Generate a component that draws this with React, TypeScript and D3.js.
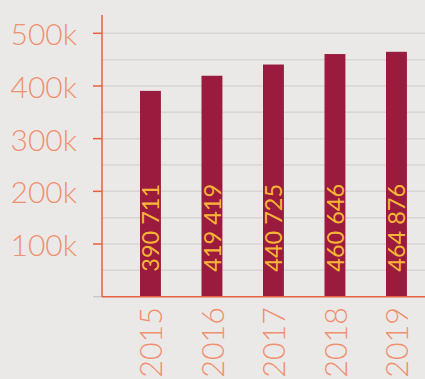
import React from "react";
import * as d3 from "d3";

const years = ["2015", "2016", "2017", "2018", "2019"];
const values = [390711, 419419, 440725, 460646, 464876];
const valueLabels = ["390 711", "419 419", "440 725", "460 646", "464 876"];
const majorTicks = [100000, 200000, 300000, 400000, 500000];
const tickLabels = ["100k", "200k", "300k", "400k", "500k"];
const gridTicks = [50000, 100000, 150000, 200000, 250000, 300000, 350000, 400000, 450000, 500000];

const W = 425;
const H = 379;

export default function App() {
  const y = d3.scaleLinear().domain([0, 500000]).range([296.7, 33.3]);
  const x = d3.scaleBand<string>().domain(years).range([119.7, 427.2]).paddingInner(0.66).paddingOuter(0.33);
  const axisX = 102;
  const axisColor = "#e6613f";
  const labelColor = "#f0906f";
  return (
    <svg width={W} height={H} style={{ position: "absolute", left: 0, top: 0, background: "#eae9e8" }}>
      <rect x={0} y={0} width={W} height={H} fill="#eae9e8" />
      {gridTicks.map((t) => (
        <line key={"g" + t} x1={axisX} x2={W} y1={y(t)} y2={y(t)} stroke="#d8d6d4" strokeWidth={1.5} />
      ))}
      <line x1={93} x2={axisX} y1={y(0)} y2={y(0)} stroke="#cfcac7" strokeWidth={1.5} />
      {values.map((v, i) => (
        <rect key={"b" + i} x={x(years[i])} width={x.bandwidth()} y={y(v)} height={y(0) - y(v)} fill="#9a1b3d" />
      ))}
      {values.map((v, i) => {
        const cx = (x(years[i]) as number) + x.bandwidth() / 2;
        const cy = y(0) - 25;
        return (
          <text
            key={"vl" + i}
            transform={`translate(${cx},${cy}) rotate(-90)`}
            textAnchor="start"
            dominantBaseline="central"
            fill="#f6b536"
            fontFamily="Lato, 'Open Sans', sans-serif"
            fontSize={23.5}
          >
            {valueLabels[i]}
          </text>
        );
      })}
      <line x1={axisX} x2={axisX} y1={15} y2={y(0)} stroke={axisColor} strokeWidth={1.5} />
      <line x1={axisX} x2={W} y1={y(0)} y2={y(0)} stroke={axisColor} strokeWidth={1.5} />
      {majorTicks.map((t, i) => (
        <g key={"t" + t}>
          <line x1={93} x2={axisX} y1={y(t)} y2={y(t)} stroke={axisColor} strokeWidth={1.5} />
          <text
            x={77}
            y={y(t)}
            textAnchor="end"
            dominantBaseline="central"
            fill={labelColor}
            fontFamily="Lato, 'Open Sans', sans-serif"
            fontWeight={300}
            fontSize={30}
          >
            {tickLabels[i]}
          </text>
        </g>
      ))}
      {years.map((yr) => {
        const cx = (x(yr) as number) + x.bandwidth() / 2;
        return (
          <text
            key={"x" + yr}
            transform={`translate(${cx},307) rotate(-90)`}
            textAnchor="end"
            dominantBaseline="central"
            fill={labelColor}
            fontFamily="Lato, 'Open Sans', sans-serif"
            fontWeight={300}
            fontSize={30.5}
          >
            {yr}
          </text>
        );
      })}
    </svg>
  );
}
